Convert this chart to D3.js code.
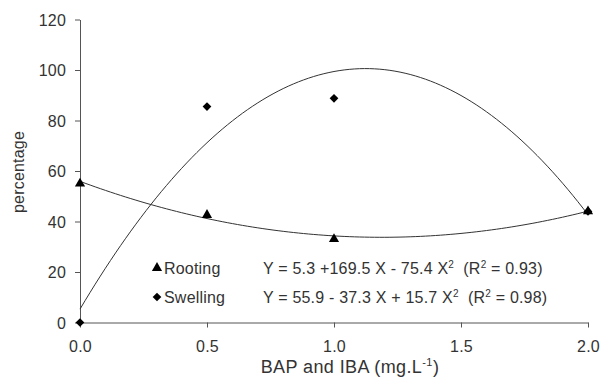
<!DOCTYPE html>
<html><head><meta charset="utf-8">
<script src="https://cdn.jsdelivr.net/npm/d3@7"></script>
<style>
body{margin:0;background:#fff;}
text{font-family:"Liberation Sans",Arial,sans-serif;fill:#333;}
</style></head>
<body><svg id="c" width="602" height="384"></svg>
<script>
const xTicks = [0, 0.5, 1.0, 1.5, 2.0];
const yTicks = [0, 20, 40, 60, 80, 100, 120];
const doses = [0, 0.5, 1.0, 2.0];
const rootingVals = [55, 42.6, 33, 44];
const swellingVals = [0, 85.5, 88.8, 44];
// trend line coefficients as printed on the chart (a + bX + cX^2)
const coefHump = [5.3, 169.5, -75.4];
const coefDip = [55.9, -37.3, 15.7];
const legendNames = ["Rooting", "Swelling"];

const svg = d3.select("#c");
const x = d3.scaleLinear().domain([0, 2]).range([80, 588]);
const y = d3.scaleLinear().domain([0, 120]).range([322.5, 19.5]);
const fs = 16;
const ls = 0.2;

// axes
const xa = svg.append("g").attr("transform", "translate(0,322.5)")
  .call(d3.axisBottom(x).tickValues(xTicks).tickFormat(d3.format(".1f")).tickSizeInner(5).tickSizeOuter(0));
const ya = svg.append("g").attr("transform", "translate(80,0)")
  .call(d3.axisLeft(y).tickValues(yTicks).tickSizeInner(5).tickSizeOuter(0));
[xa, ya].forEach(g => {
  g.selectAll("path,line").attr("stroke", "#555").attr("stroke-width", 1);
  g.selectAll("text").attr("font-size", fs).attr("letter-spacing", ls)
    .attr("font-family", "Liberation Sans, Arial, sans-serif").attr("fill", "#333");
});
xa.selectAll("text").attr("dy", null).attr("y", 29);
ya.selectAll("text").attr("x", -14).attr("dy", "0.36em");

// trend curves
const line = d3.line().x(d => x(d[0])).y(d => y(d[1]));
function curve(c) {
  const xs = d3.range(0, 2.0001, 0.02);
  return xs.map(v => [v, c[0] + c[1] * v + c[2] * v * v]);
}
[coefHump, coefDip].forEach(c => {
  svg.append("path").attr("d", line(curve(c))).attr("fill", "none")
    .attr("stroke", "#333").attr("stroke-width", 1);
});

const tri = d3.symbol().type(d3.symbolTriangle).size(45);
const dia = d3.symbol().type(d3.symbolSquare).size(38);

svg.selectAll(".r").data(doses).enter().append("path")
  .attr("d", tri).attr("fill", "#000")
  .attr("transform", (d, i) => `translate(${x(d)},${y(rootingVals[i])})`);
svg.selectAll(".s").data(doses).enter().append("path")
  .attr("d", dia).attr("fill", "#000")
  .attr("transform", (d, i) => `translate(${x(d)},${y(swellingVals[i])}) rotate(45)`);

// legend
const leg = [
  {sym: tri, rot: "", y: 268, name: legendNames[0], eq: ["Y = 5.3 +169.5 X - 75.4 X", "  (R", " = 0.93)"]},
  {sym: dia, rot: " rotate(45)", y: 297, name: legendNames[1], eq: ["Y = 55.9 - 37.3 X + 15.7 X", "  (R", " = 0.98)"]}
];
leg.forEach(l => {
  svg.append("path").attr("d", l.sym).attr("fill", "#000").attr("transform", `translate(157,${l.y})${l.rot}`);
  svg.append("text").attr("x", 164).attr("y", l.y + 6).attr("font-size", fs).attr("letter-spacing", ls).text(l.name);
  const t = svg.append("text").attr("x", 263).attr("y", l.y + 6).attr("font-size", fs)
    .attr("letter-spacing", ls).attr("xml:space", "preserve");
  t.append("tspan").text(l.eq[0]);
  t.append("tspan").attr("dy", -6).attr("font-size", 10).text("2");
  t.append("tspan").attr("dy", 6).text(l.eq[1]);
  t.append("tspan").attr("dy", -6).attr("font-size", 10).text("2");
  t.append("tspan").attr("dy", 6).text(l.eq[2]);
});

// axis titles
const xt = svg.append("text").attr("x", 350).attr("y", 373).attr("text-anchor", "middle")
  .attr("font-size", 18).attr("letter-spacing", 0.4);
xt.append("tspan").text("BAP and IBA (mg.L");
xt.append("tspan").attr("dy", -7).attr("font-size", 11).text("-1");
xt.append("tspan").attr("dy", 7).text(")");
svg.append("text").attr("transform", "translate(24,172) rotate(-90)").attr("text-anchor", "middle")
  .attr("font-size", fs).attr("letter-spacing", ls).text("percentage");
</script></body></html>
